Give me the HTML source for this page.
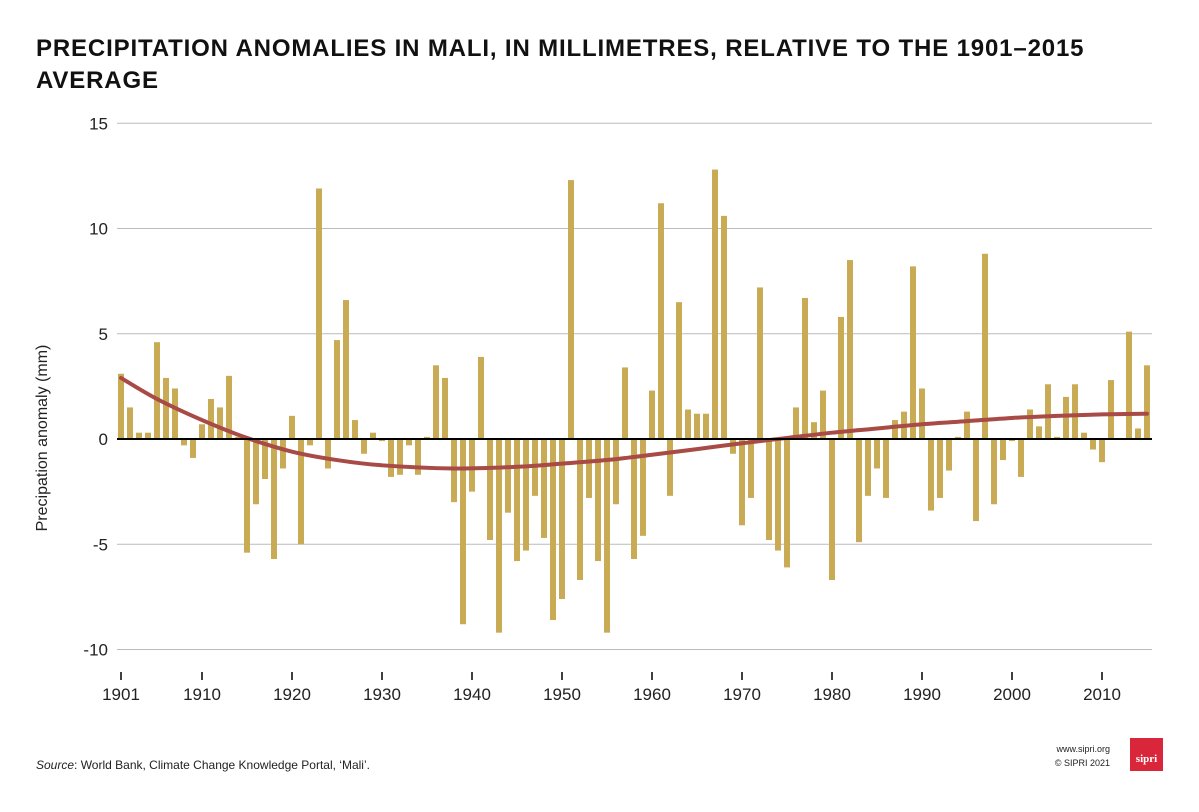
<!DOCTYPE html>
<html><head><meta charset="utf-8"><style>
body{margin:0;background:#fff;width:1199px;height:807px;overflow:hidden;font-family:"Liberation Sans",sans-serif}
</style></head><body>
<svg width="1199" height="807">
<text x="36" y="56" font-size="24" font-weight="bold" fill="#111" style="letter-spacing:0.85px">PRECIPITATION ANOMALIES IN MALI, IN MILLIMETRES, RELATIVE TO THE 1901–2015</text>
<text x="36" y="88" font-size="24" font-weight="bold" fill="#111" style="letter-spacing:0.85px">AVERAGE</text>
<g id="grid"></g><g id="bars"></g><g id="trend"></g><g id="axes"></g>
<text transform="translate(47,438) rotate(-90)" text-anchor="middle" font-size="16" fill="#222">Precipation anomaly (mm)</text>
<text x="36" y="769" font-size="12" fill="#222"><tspan font-style="italic">Source</tspan>: World Bank, Climate Change Knowledge Portal, ‘Mali’.</text>
<text x="1110" y="752" font-size="9" text-anchor="end" fill="#222">www.sipri.org</text>
<text x="1110" y="766" font-size="9" text-anchor="end" fill="#222">© SIPRI 2021</text>
<rect x="1130" y="738" width="33" height="33" fill="#d9263b"/>
<text x="1146.5" y="762" font-size="11" font-weight="bold" text-anchor="middle" fill="#fff" font-family="Liberation Serif,serif">sipri</text>
</svg>
<script>
const values=[3.1,1.5,0.3,0.3,4.6,2.9,2.4,-0.3,-0.9,0.7,1.9,1.5,3.0,0.1,-5.4,-3.1,-1.9,-5.7,-1.4,1.1,-5.0,-0.3,11.9,-1.4,4.7,6.6,0.9,-0.7,0.3,-0.1,-1.8,-1.7,-0.3,-1.7,0.1,3.5,2.9,-3.0,-8.8,-2.5,3.9,-4.8,-9.2,-3.5,-5.8,-5.3,-2.7,-4.7,-8.6,-7.6,12.3,-6.7,-2.8,-5.8,-9.2,-3.1,3.4,-5.7,-4.6,2.3,11.2,-2.7,6.5,1.4,1.2,1.2,12.8,10.6,-0.7,-4.1,-2.8,7.2,-4.8,-5.3,-6.1,1.5,6.7,0.8,2.3,-6.7,5.8,8.5,-4.9,-2.7,-1.4,-2.8,0.9,1.3,8.2,2.4,-3.4,-2.8,-1.5,0.1,1.3,-3.9,8.8,-3.1,-1.0,-0.1,-1.8,1.4,0.6,2.6,0.1,2.0,2.6,0.3,-0.5,-1.1,2.8,0.0,5.1,0.5,3.5];
const startYear=1901;
const trendYears=[1901,1905,1910,1915,1920,1925,1930,1938,1945,1950,1955,1960,1965,1970,1975,1980,1985,1990,1995,2000,2005,2010,2015];
const trendValues=[2.9,1.9,0.9,0.05,-0.6,-1.0,-1.25,-1.4,-1.32,-1.17,-1.0,-0.75,-0.48,-0.2,0.05,0.3,0.5,0.7,0.85,1.0,1.1,1.17,1.2];
const yTicks=[15,10,5,0,-5,-10];
const xTicks=[1901,1910,1920,1930,1940,1950,1960,1970,1980,1990,2000,2010];
const NS="http://www.w3.org/2000/svg";
const X=y=>121+(y-1901)*9.0;
const Y=v=>439-v*21.05;
function mk(t,a,p){const e=document.createElementNS(NS,t);for(const k in a)e.setAttribute(k,a[k]);document.getElementById(p).appendChild(e);return e;}
yTicks.forEach(t=>{
 if(t!==0){const l=mk('line',{x1:117,x2:1152,y1:Y(t),y2:Y(t),stroke:'#bbb','stroke-width':1},'grid');
 
 }
 const tx=mk('text',{x:108,y:Y(t)+6,'text-anchor':'end','font-size':17,fill:'#222'},'axes');
 tx.textContent=t;
 
 
});
values.forEach((v,i)=>{
 const x=X(startYear+i);
 const r=mk('rect',{x:x-3,width:6,y:Math.min(Y(v),Y(0)),height:Math.abs(Y(v)-Y(0)),fill:'#c9aa55'},'bars');
 
 
});
const zl=mk('line',{x1:117,x2:1152,y1:Y(0),y2:Y(0),stroke:'#000','stroke-width':2},'axes');


let d='';
const pts=trendYears.map((y,i)=>[X(y),Y(trendValues[i])]);
d='M'+pts[0][0]+','+pts[0][1];
for(let i=0;i<pts.length-1;i++){
 const p0=pts[Math.max(0,i-1)],p1=pts[i],p2=pts[i+1],p3=pts[Math.min(pts.length-1,i+2)];
 d+=' C'+(p1[0]+(p2[0]-p0[0])/6)+','+(p1[1]+(p2[1]-p0[1])/6)+' '+(p2[0]-(p3[0]-p1[0])/6)+','+(p2[1]-(p3[1]-p1[1])/6)+' '+p2[0]+','+p2[1];
}
const tr=mk('path',{d:d,fill:'none',stroke:'#a84a45','stroke-width':4,'stroke-linecap':'round'},'trend');


xTicks.forEach(y=>{
 const l=mk('line',{x1:X(y),x2:X(y),y1:672,y2:680,stroke:'#000','stroke-width':1.5},'axes');
 
 
 const t=mk('text',{x:X(y),y:700,'text-anchor':'middle','font-size':17,fill:'#222'},'axes');
 t.textContent=y;
 
 
});
</script>
</body></html>
